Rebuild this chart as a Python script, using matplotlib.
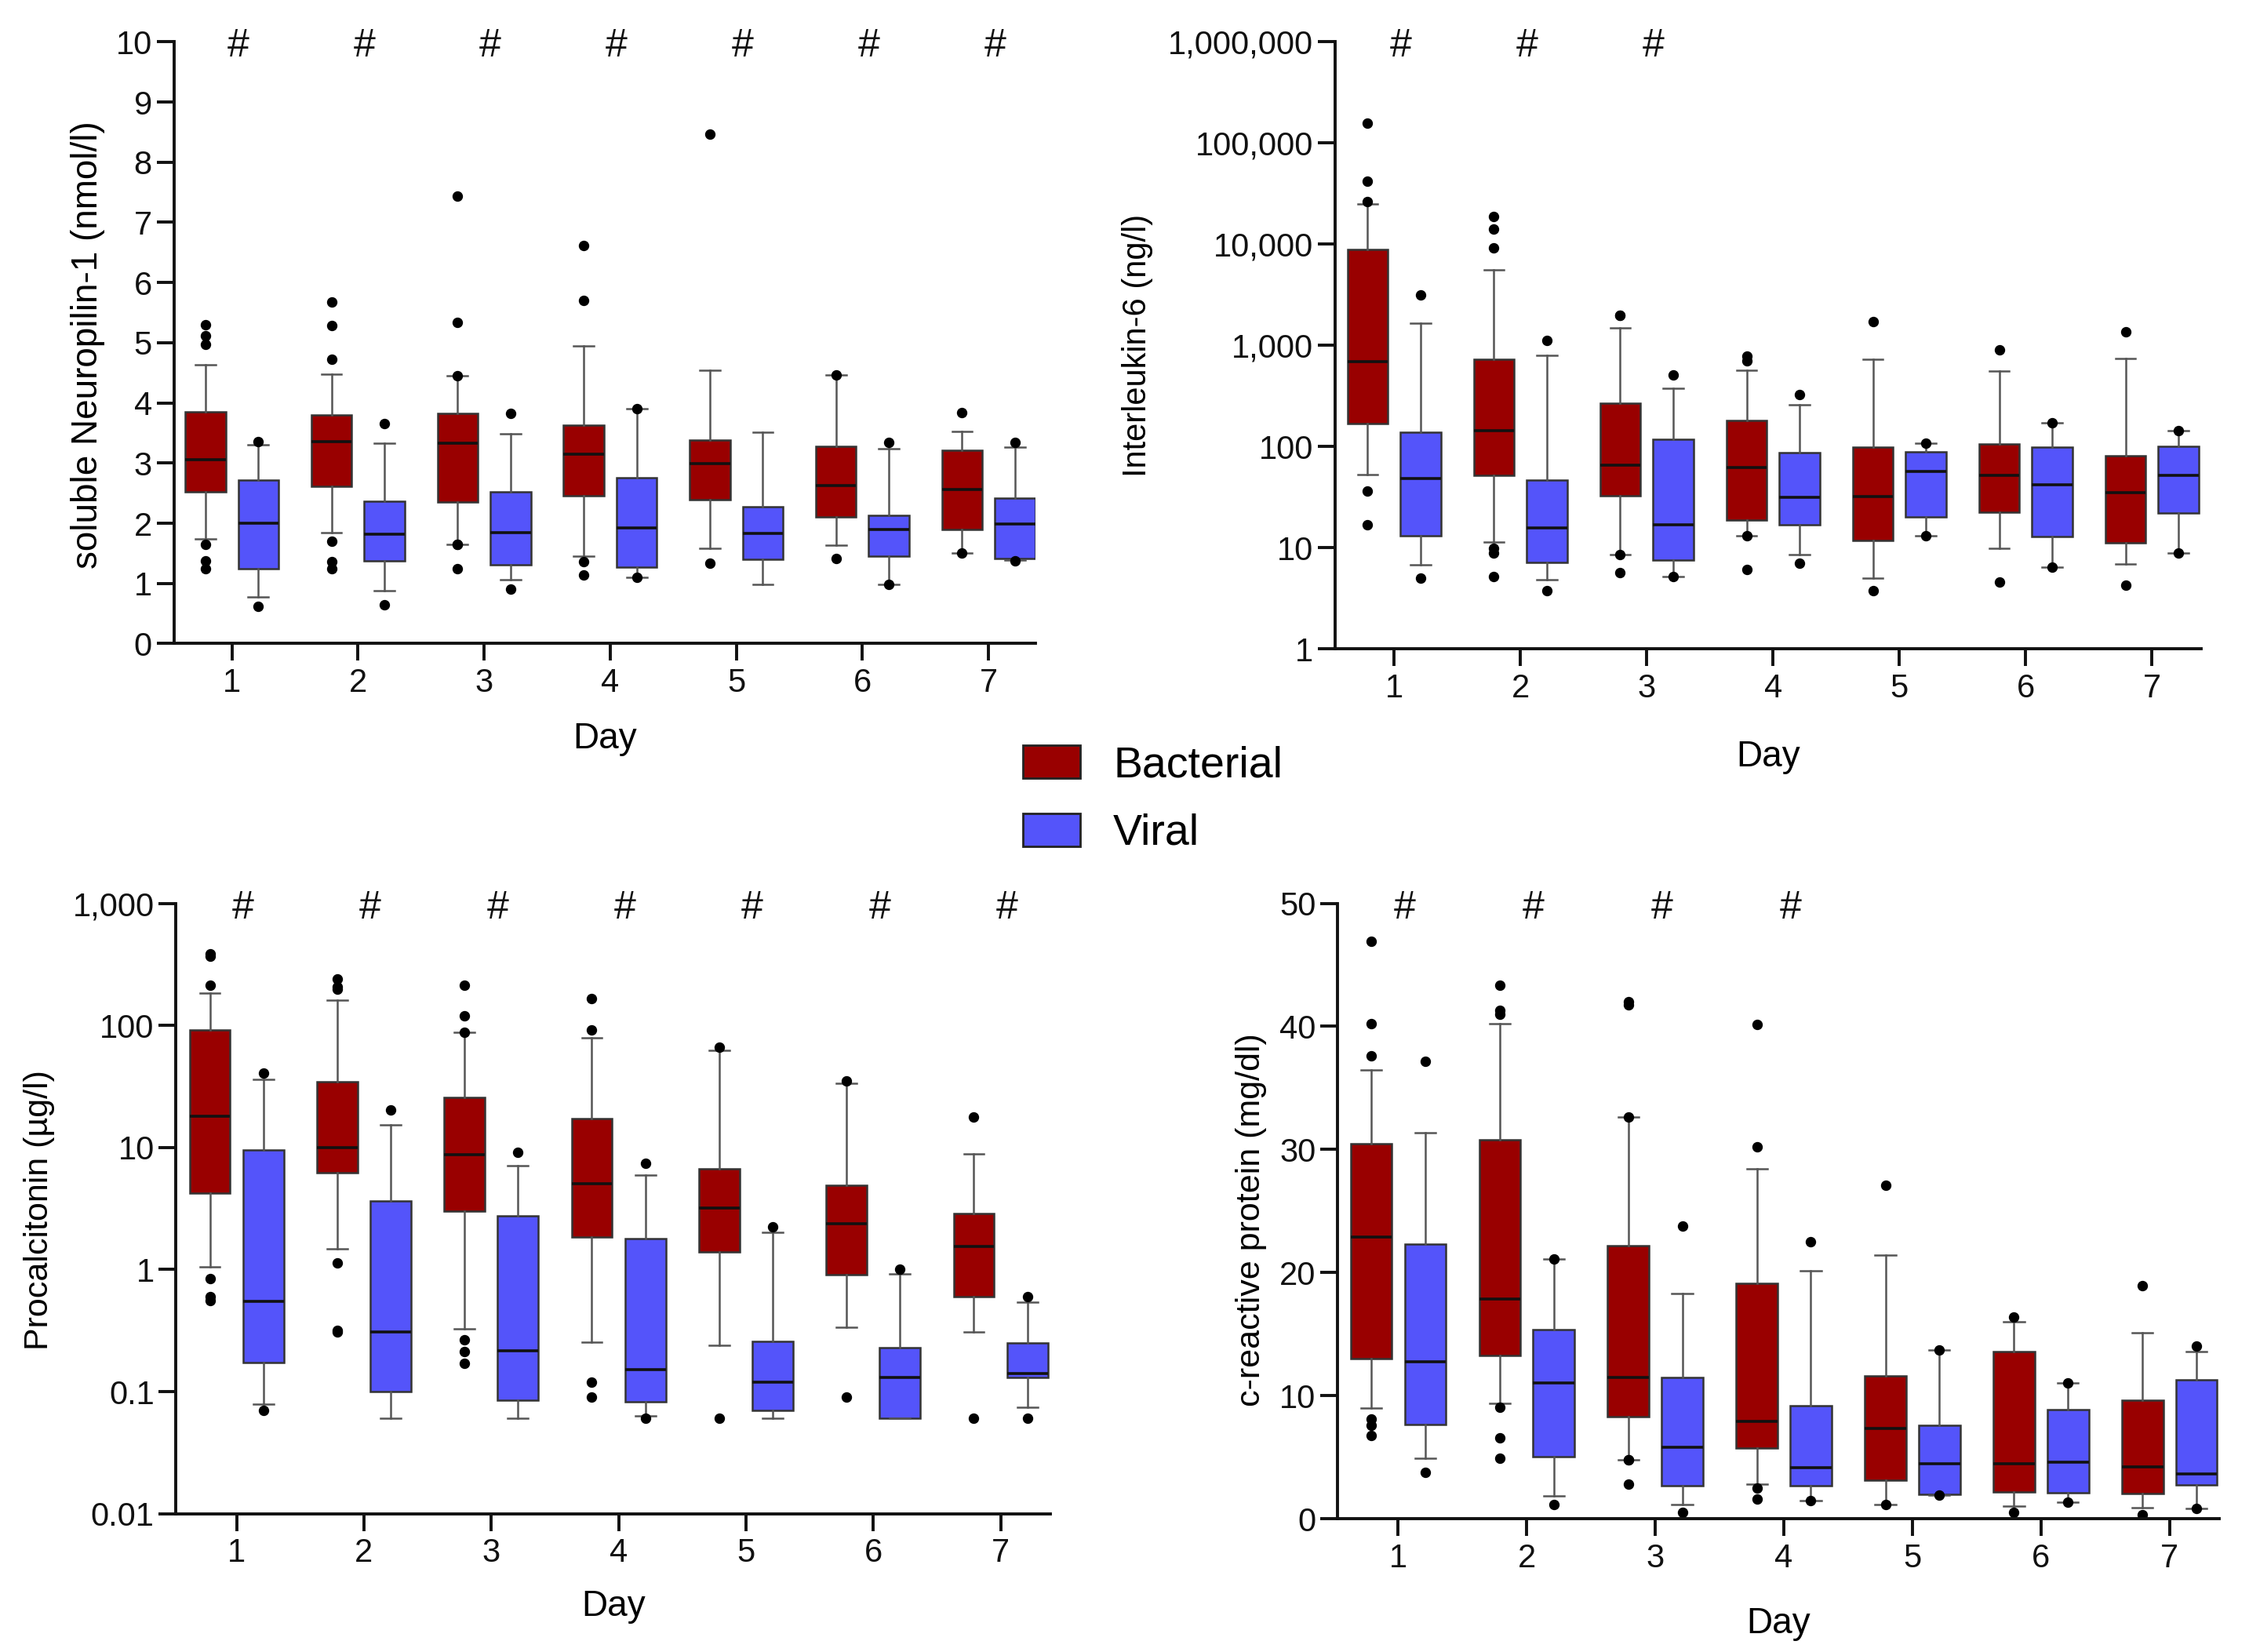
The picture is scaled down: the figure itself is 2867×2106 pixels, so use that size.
import matplotlib
matplotlib.use("Agg")
import matplotlib.pyplot as plt
from matplotlib.patches import Patch
from matplotlib.ticker import FixedLocator, FixedFormatter, NullLocator

plt.rcParams['font.family'] = ['Liberation Sans', 'DejaVu Sans']

days = [1, 2, 3, 4, 5, 6, 7]
groups = ["Bacterial", "Viral"]

# each stat: (whislo, q1, med, q3, whishi, [fliers])
# ---------------- soluble Neuropilin-1 ----------------
nrp_bact = [
    (1.74, 2.52, 3.06, 3.85, 4.64, [5.30, 5.12, 4.97, 1.65, 1.38, 1.24]),
    (1.84, 2.61, 3.36, 3.80, 4.48, [5.67, 5.28, 4.73, 1.70, 1.36, 1.25]),
    (1.65, 2.35, 3.33, 3.83, 4.45, [7.43, 5.34, 4.45, 1.65, 1.65, 1.245]),
    (1.45, 2.46, 3.15, 3.63, 4.95, [6.62, 5.70, 1.36, 1.14]),
    (1.59, 2.39, 2.99, 3.38, 4.54, [8.47, 1.34]),
    (1.63, 2.11, 2.62, 3.28, 4.46, [4.46, 1.42]),
    (1.50, 1.90, 2.56, 3.21, 3.53, [3.84, 1.50]),
]
nrp_vir = [
    (0.77, 1.245, 2.00, 2.72, 3.31, [3.35, 0.62]),
    (0.88, 1.37, 1.82, 2.37, 3.33, [3.65, 0.65]),
    (1.06, 1.31, 1.85, 2.52, 3.49, [3.82, 0.91]),
    (1.10, 1.27, 1.92, 2.76, 3.90, [3.90, 1.10]),
    (0.99, 1.40, 1.83, 2.28, 3.51, []),
    (0.99, 1.45, 1.90, 2.13, 3.24, [3.34, 0.99]),
    (1.39, 1.42, 1.99, 2.42, 3.27, [3.34, 1.37]),
]
# ---------------- Interleukin-6 ----------------
il6_bact = [
    (53, 169, 689, 8930, 25000, [156000, 41900, 26400, 36, 16.7]),
    (11.4, 51.3, 142, 729, 5590, [18800, 14100, 9250, 9.86, 8.8, 5.2]),
    (8.5, 32.8, 65.2, 266, 1480, [1970, 1970, 8.5, 5.63]),
    (13.0, 18.7, 61.5, 180, 567, [781, 697, 13.0, 6.03]),
    (5.02, 11.7, 31.7, 98.4, 729, [1700, 3.77]),
    (9.87, 22.5, 51.3, 105, 560, [896, 4.58]),
    (6.84, 11.1, 34.7, 81, 738, [1350, 4.28]),
]
il6_vir = [
    (6.76, 13.1, 47.9, 137, 1660, [3120, 4.96]),
    (4.8, 7.16, 15.6, 46.2, 790, [1110, 3.77]),
    (5.14, 7.5, 16.9, 117, 376, [511, 5.14]),
    (8.6, 16.9, 31.3, 86.8, 260, [324, 7.0]),
    (13.1, 20.0, 56.8, 88.8, 107, [107, 13.1]),
    (6.38, 12.8, 41.7, 98.4, 172, [172, 6.38]),
    (8.8, 22.0, 51.3, 101, 144, [144, 8.8]),
]
# ---------------- Procalcitonin ----------------
pct_bact = [
    (1.06, 4.23, 17.9, 92, 183, [385, 367, 213, 0.843, 0.598, 0.555]),
    (1.47, 6.25, 9.98, 34.5, 160, [239, 207, 198, 1.13, 0.319, 0.31]),
    (0.325, 3.0, 8.73, 25.9, 87.9, [213, 120, 87.9, 0.264, 0.214, 0.170]),
    (0.254, 1.86, 5.02, 17.3, 79, [165, 91.2, 0.119, 0.0906]),
    (0.239, 1.40, 3.18, 6.68, 62.4, [65.9, 0.0607]),
    (0.338, 0.91, 2.37, 4.93, 33.5, [35.2, 0.0906]),
    (0.310, 0.604, 1.54, 2.89, 8.81, [17.7, 0.0607]),
]
pct_vir = [
    (0.0793, 0.173, 0.55, 9.5, 36.1, [40.5, 0.070]),
    (0.0607, 0.0995, 0.307, 3.66, 15.3, [20.4]),
    (0.0607, 0.0855, 0.216, 2.76, 7.08, [9.17]),
    (0.063, 0.0822, 0.152, 1.78, 5.9, [7.43, 0.0607]),
    (0.0607, 0.0706, 0.119, 0.259, 2.01, [2.23]),
    (0.0607, 0.0607, 0.130, 0.229, 0.92, [1.01]),
    (0.0741, 0.130, 0.141, 0.249, 0.544, [0.604, 0.0607]),
]
# ---------------- c-reactive protein ----------------
crp_bact = [
    (9.0, 12.98, 22.88, 30.44, 36.48, [46.92, 40.22, 37.63, 8.09, 7.6, 6.78]),
    (9.37, 13.23, 17.87, 30.77, 40.22, [43.34, 41.29, 40.96, 9.04, 6.57, 4.93]),
    (4.81, 8.30, 11.50, 22.19, 32.66, [41.99, 41.74, 32.66, 4.81, 4.81, 2.79]),
    (2.83, 5.71, 7.89, 19.15, 28.43, [40.14, 30.2, 2.47, 1.6]),
    (1.15, 3.12, 7.31, 11.63, 21.40, [27.12, 1.15]),
    (1.03, 2.14, 4.44, 13.60, 15.98, [16.39, 0.53]),
    (0.90, 2.05, 4.19, 9.65, 15.08, [18.94, 0.29]),
]
crp_vir = [
    (4.89, 7.64, 12.78, 22.31, 31.35, [37.18, 3.78]),
    (1.85, 5.01, 11.01, 15.37, 21.08, [21.08, 1.15]),
    (1.15, 2.67, 5.79, 11.50, 18.32, [23.79, 0.49]),
    (1.44, 2.67, 4.15, 9.16, 20.17, [22.47, 1.44]),
    (1.93, 2.01, 4.44, 7.56, 13.68, [13.68, 1.93]),
    (1.31, 2.10, 4.60, 8.87, 11.05, [11.05, 1.31]),
    (0.82, 2.75, 3.66, 11.30, 13.60, [14.05, 0.82]),
]

nrp_sig = [1, 2, 3, 4, 5, 6, 7]
il6_sig = [1, 2, 3]
pct_sig = [1, 2, 3, 4, 5, 6, 7]
crp_sig = [1, 2, 3, 4]

nrp_ylabel = "soluble Neuropilin-1 (nmol/l)"
il6_ylabel = "Interleukin-6 (ng/l)"
pct_ylabel = "Procalcitonin (µg/l)"
crp_ylabel = "c-reactive protein (mg/dl)"

nrp_ticks = [0, 1, 2, 3, 4, 5, 6, 7, 8, 9, 10]
nrp_ticklabels = ["0", "1", "2", "3", "4", "5", "6", "7", "8", "9", "10"]
il6_ticks = [1, 10, 100, 1000, 10000, 100000, 1000000]
il6_ticklabels = ["1", "10", "100", "1,000", "10,000", "100,000", "1,000,000"]
pct_ticks = [0.01, 0.1, 1, 10, 100, 1000]
pct_ticklabels = ["0.01", "0.1", "1", "10", "100", "1,000"]
crp_ticks = [0, 10, 20, 30, 40, 50]
crp_ticklabels = ["0", "10", "20", "30", "40", "50"]

RED = "#990000"
BLUE = "#5454FA"

fig = plt.figure(figsize=(14.335, 10.53), dpi=200)

panels = [
    dict(rect=[0.0773, 0.6104, 0.3830, 0.3643], b=nrp_bact, v=nrp_vir, sig=nrp_sig,
         ylabel=nrp_ylabel, ysize=16.5, ticks=nrp_ticks, tl=nrp_ticklabels, log=False,
         xlim=(0.54, 7.37), ylab_xy=(-0.10, 0.497), xlab_y=-0.158),
    dict(rect=[0.5935, 0.6073, 0.3853, 0.3674], b=il6_bact, v=il6_vir, sig=il6_sig,
         ylabel=il6_ylabel, ysize=15, ticks=il6_ticks, tl=il6_ticklabels, log=True,
         xlim=(0.53, 7.39), ylab_xy=(-0.228, 0.50), xlab_y=-0.178),
    dict(rect=[0.0783, 0.0837, 0.3887, 0.3695], b=pct_bact, v=pct_vir, sig=pct_sig,
         ylabel=pct_ylabel, ysize=15.5, ticks=pct_ticks, tl=pct_ticklabels, log=True,
         xlim=(0.525, 7.39), ylab_xy=(-0.157, 0.498), xlab_y=-0.152),
    dict(rect=[0.5948, 0.0807, 0.3919, 0.3725], b=crp_bact, v=crp_vir, sig=crp_sig,
         ylabel=crp_ylabel, ysize=15.5, ticks=crp_ticks, tl=crp_ticklabels, log=False,
         xlim=(0.53, 7.385), ylab_xy=(-0.098, 0.485), xlab_y=-0.171),
]

def to_stats(rows):
    out = []
    for lo, q1, med, q3, hi, fl in rows:
        out.append(dict(whislo=lo, q1=q1, med=med, q3=q3, whishi=hi, fliers=fl))
    return out

for p in panels:
    ax = fig.add_axes(p["rect"])
    if p["log"]:
        ax.set_yscale("log")
    for stats, color, off in ((p["b"], RED, -0.21), (p["v"], BLUE, 0.21)):
        ax.bxp(to_stats(stats), positions=[d + off for d in days], widths=0.32,
               patch_artist=True, showfliers=True, manage_ticks=False,
               boxprops=dict(facecolor=color, edgecolor="#333333", linewidth=0.9),
               medianprops=dict(color="#111111", linewidth=1.3),
               whiskerprops=dict(color="#555555", linewidth=0.9),
               capprops=dict(color="#555555", linewidth=0.9),
               flierprops=dict(marker="o", markersize=3.8, markerfacecolor="black",
                               markeredgecolor="black", linestyle="none"))
    ax.set_xlim(*p["xlim"])
    ax.set_ylim(p["ticks"][0], p["ticks"][-1])
    ax.yaxis.set_major_locator(FixedLocator(p["ticks"]))
    ax.yaxis.set_major_formatter(FixedFormatter(p["tl"]))
    ax.yaxis.set_minor_locator(NullLocator())
    ax.set_xticks(days)
    ax.set_xticklabels([str(d) for d in days])
    for s in ("top", "right"):
        ax.spines[s].set_visible(False)
    for s in ("left", "bottom"):
        ax.spines[s].set_linewidth(1.4)
        ax.spines[s].set_color("#111111")
    ax.tick_params(axis="both", direction="out", length=8, width=1.4,
                   labelsize=15, colors="#111111")
    ax.tick_params(axis="x", pad=3)
    ax.tick_params(axis="y", pad=2)
    ax.set_ylabel(p["ylabel"], fontsize=p["ysize"])
    ax.yaxis.set_label_coords(*p["ylab_xy"])
    ax.yaxis.label.set_va("center")
    ax.set_xlabel("Day", fontsize=16.5)
    ax.xaxis.set_label_coords(0.5, p["xlab_y"])
    ax.xaxis.label.set_va("center")
    for d in p["sig"]:
        ax.text(d + 0.05, 0.992, "#", transform=ax.get_xaxis_transform(),
                ha="center", va="center", fontsize=18, color="#111111")
    ax.patch.set_alpha(0)

handles = [Patch(facecolor=RED, edgecolor="#222222", linewidth=1.0),
           Patch(facecolor=BLUE, edgecolor="#222222", linewidth=1.0)]
fig.legend(handles, groups, loc="center left", bbox_to_anchor=(0.445, 0.516),
           frameon=False, fontsize=20, handlelength=1.32, handleheight=0.79,
           handletextpad=0.76, labelspacing=0.62, borderpad=0)

fig.savefig("out.png", dpi=200, facecolor="white")
